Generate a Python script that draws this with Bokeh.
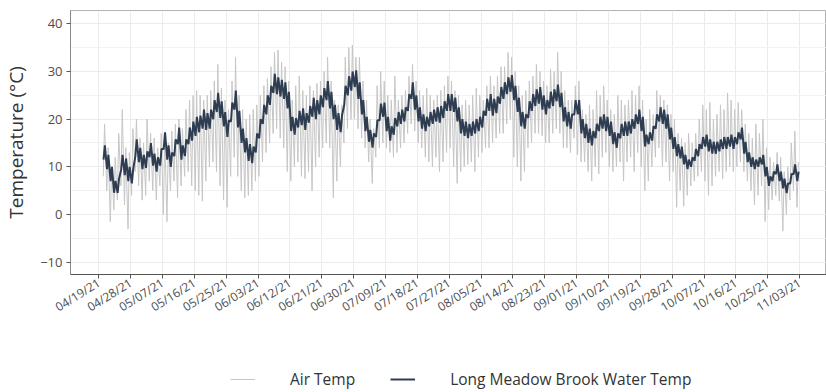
import math
import datetime as dt
from bokeh.plotting import figure
from bokeh.layouts import column
from bokeh.models import Range1d, FixedTicker, DatetimeTickFormatter, Legend, LegendItem
from bokeh.embed import file_html
from bokeh.resources import INLINE

# ---------------- data (daily values) ----------------
first_day = "2021-04-20"

water_mean = [
    13.0, 11.0, 8.5, 5.8, 6.0, 11.0, 10.0, 8.5, 8.0, 14.0,
    12.5, 11.0, 11.5, 13.5, 11.5, 10.5, 12.0, 15.5, 13.0, 11.5,
    14.0, 16.5, 13.0, 14.0, 16.5, 17.5, 18.5, 19.0, 20.0, 19.5,
    20.0, 22.0, 23.5, 22.0, 20.0, 18.0, 21.5, 24.0, 20.0, 16.5,
    14.5, 13.0, 12.5, 15.0, 18.0, 21.0, 23.0, 25.0, 27.5, 27.0,
    26.5, 26.0, 24.0, 19.0, 18.5, 20.0, 20.5, 19.5, 21.0, 22.5,
    22.0, 23.0, 24.5, 26.0, 24.0, 21.5, 19.5, 19.0, 25.0, 27.0,
    28.0, 28.5, 26.0, 22.5, 19.0, 16.5, 15.5, 18.0, 21.5, 22.0,
    19.0, 17.0, 18.5, 20.0, 20.5, 21.0, 23.5, 26.0, 23.5, 21.0,
    19.5, 19.0, 20.0, 20.5, 21.0, 21.0, 22.0, 23.5, 23.5, 23.0,
    21.0, 18.5, 18.0, 17.5, 18.0, 18.5, 19.0, 20.0, 22.5, 23.5,
    22.5, 23.0, 25.0, 26.0, 27.0, 27.5, 25.5, 23.0, 20.0, 19.5,
    22.0, 23.5, 24.5, 25.0, 23.5, 22.5, 24.0, 24.5, 25.5, 24.0,
    21.0, 20.0, 19.5, 22.5, 22.5, 18.5, 17.5, 16.5, 16.0, 17.5,
    19.0, 19.5, 19.0, 18.0, 16.0, 15.5, 17.5, 18.0, 18.0, 18.5,
    19.5, 20.5, 19.0, 15.5, 16.0, 17.0, 19.5, 21.0, 20.5, 19.5,
    17.0, 15.0, 13.5, 13.0, 11.5, 10.5, 11.0, 12.5, 13.5, 15.0,
    15.5, 14.5, 14.0, 14.0, 14.5, 15.0, 15.0, 15.5, 15.0, 16.0,
    17.0, 14.0, 12.0, 11.0, 10.5, 11.0, 11.5, 9.0, 7.0, 8.0,
    9.5, 8.0, 6.5, 5.5, 7.5, 9.5, 8.0,
]

water_range = [
    3, 3, 3, 2.5, 3, 3, 3.5, 3, 3, 3.5,
    3, 3, 3.5, 3, 2.5, 3, 3.5, 3.5, 3, 3,
    3.5, 3.5, 3, 3.5, 3.5, 4, 4, 3.5, 4, 3.5,
    4, 4, 4, 3.5, 3, 3.5, 4, 4, 3.5, 3,
    3, 3.5, 3.5, 4, 4, 4, 4, 4, 4, 3.5,
    3.5, 3.5, 3.5, 3, 3.5, 3.5, 3.5, 3.5, 3.5, 4,
    4, 4, 4, 4, 3.5, 3, 3.5, 3.5, 4, 4,
    4, 3.5, 3.5, 3, 3, 2.5, 3, 3.5, 3.5, 3,
    3, 3, 3.5, 3, 3, 3, 3.5, 3.5, 3, 3,
    3, 3, 3, 3, 3, 3.5, 3.5, 3.5, 3.5, 3,
    3, 3, 3, 3, 3, 3, 3, 3.5, 3.5, 3.5,
    3.5, 3.5, 3.5, 3.5, 3.5, 3.5, 3, 3, 3, 3,
    3.5, 3.5, 3.5, 3.5, 3, 3, 3.5, 3.5, 3.5, 3,
    3, 3, 3, 3, 3, 3, 3, 3, 3, 3,
    3, 3, 3, 3, 2.5, 3, 3, 3, 3, 3,
    3, 3, 3, 2.5, 2.5, 3, 3, 3, 3, 3,
    2.5, 2.5, 2.5, 2.5, 2, 2, 2, 2.5, 2.5, 2.5,
    2.5, 2.5, 2.5, 2.5, 2.5, 2.5, 2.5, 2.5, 2.5, 2.5,
    2.5, 2.5, 2, 2, 2, 2, 2, 2, 2, 2,
    2, 2, 2, 2, 2, 2, 2,
]

air_low = [
    8, 5, -1.5, 1, 3, 6, 2, -3, 4, 9,
    6, 3, 4, 7, 5, 3, 6, 0, -1.5, 5,
    7, 3.5, 6, 8, 9, 6, 5, 4, 2.8, 7,
    10, 11, 9, 6, 3, 1.5, 8, 12, 8, 5,
    3.5, 4, 5, 7, 8, 11, 13, 15, 17, 18,
    16, 14, 9, 7, 10, 11, 8, 7.5, 9, 5,
    10, 12, 14, 15, 14, 3.5, 7, 10, 15, 18,
    20, 20, 18, 16, 14, 11, 6.5, 12, 14, 15,
    14, 13, 12, 13, 14, 15, 17, 19, 17.5, 15,
    14, 12, 11, 10, 12, 9, 11, 13, 14, 10,
    6.5, 9, 10, 10.5, 11, 9, 12, 13, 14, 14,
    15, 16, 17, 17, 19, 20, 12, 10, 7, 9,
    14, 15, 17, 17, 16.5, 15, 15, 17, 18, 17,
    14, 14, 13, 16, 12.5, 11, 11, 9, 7, 10,
    8.5, 12, 13, 10, 9, 10, 11, 7, 11, 12,
    9, 13, 10, 5, 7, 10, 12, 14, 10, 11,
    7, 9, 1.5, 5, 1.7, 4, 6, 7, 8, 9,
    7, 4, 6, 8, 9, 7.5, 9, 10, 9, 10,
    11, 9, 7, 5, 2, 4, 6, -1.5, 1, 3,
    4, 2.8, -3.5, 0, 3, 5, 1.5,
]

air_high = [
    19, 14, 10, 12, 17, 22, 14, 13, 18, 20,
    16, 15, 20, 17, 16, 14, 17, 17, 15, 17.5,
    19, 20, 18, 22, 24, 25, 26, 25, 24, 25,
    26, 28, 31.5, 26.5, 24, 22, 28, 33, 25, 22,
    20, 21, 22, 23, 25, 27, 28.5, 31, 34, 34.5,
    32, 31, 28, 24, 27, 29, 26, 25, 27, 26,
    27.5, 28, 30, 33, 28, 24, 23, 23, 33, 35,
    35.5, 33, 33, 28, 24, 20, 18, 27, 30, 28,
    25, 24, 29, 24, 25, 26, 29, 31.5, 28, 26,
    25, 26.5, 25, 24, 25, 26, 27, 29, 28, 26,
    25, 23, 24, 23, 25, 26.5, 25, 24, 27, 29,
    27, 29, 31, 31, 34, 33, 30, 27, 25, 26,
    28, 29, 31.5, 30, 28, 27, 30.5, 30, 34, 30,
    26, 24, 24, 27, 28, 22, 21, 23, 22, 26,
    25, 27, 24, 22, 21, 25, 24, 23, 24, 26,
    25, 27, 24, 20, 22, 21, 26, 25, 24, 23,
    21, 20, 17, 16, 15, 17, 15, 17, 20, 23,
    22, 23.5, 20, 21, 23, 22, 25.5, 24, 22, 23.5,
    22, 19, 17, 16, 19, 17, 20, 14, 12, 11,
    13, 12, 9, 10, 15, 17.5, 11,
]

tick_dates = [
    "2021-04-19", "2021-04-28", "2021-05-07", "2021-05-16", "2021-05-25",
    "2021-06-03", "2021-06-12", "2021-06-21", "2021-06-30", "2021-07-09",
    "2021-07-18", "2021-07-27", "2021-08-05", "2021-08-14", "2021-08-23",
    "2021-09-01", "2021-09-10", "2021-09-19", "2021-09-28", "2021-10-07",
    "2021-10-16", "2021-10-25", "2021-11-03", "2021-11-12",
]
y_ticks = [-10, 0, 10, 20, 30, 40]
y_minor = [-5, 5, 15, 25, 35]

series_names = ["Air Temp", "Long Meadow Brook Water Temp"]
AIR_COLOR = "#c6c6c6"
WATER_COLOR = "#2e3d52"

# ---------------- build time series ----------------
EPOCH = dt.datetime(1970, 1, 1)


def to_ms(d):
    return (d - EPOCH).total_seconds() * 1000.0


d0 = dt.datetime.strptime(first_day, "%Y-%m-%d")
n = min(len(air_low), len(air_high), len(water_mean), len(water_range))

air_x, air_y, wat_x, wat_y = [], [], [], []
for i in range(n):
    day = d0 + dt.timedelta(days=i)
    air_x += [to_ms(day + dt.timedelta(hours=6)), to_ms(day + dt.timedelta(hours=15))]
    air_y += [air_low[i], air_high[i]]
    wat_x += [to_ms(day + dt.timedelta(hours=8)), to_ms(day + dt.timedelta(hours=17))]
    wat_y += [water_mean[i] - water_range[i] / 2.0, water_mean[i] + water_range[i] / 2.0]

tick_ms = [to_ms(dt.datetime.strptime(t, "%Y-%m-%d")) for t in tick_dates]

# ---------------- main figure ----------------
FONT = "Open Sans"
MAIN_H = 330
p = figure(
    width=826, height=MAIN_H,
    x_axis_type="datetime",
    x_range=Range1d(to_ms(dt.datetime(2021, 4, 11, 0)), to_ms(dt.datetime(2021, 11, 10, 14))),
    y_range=Range1d(-12.6, 42.8),
    output_backend="svg", toolbar_location=None,
    min_border_left=70, min_border_right=0, min_border_top=10,
    min_border_bottom=MAIN_H - 274,
)
p.background_fill_color = "white"
p.border_fill_color = "white"
p.outline_line_color = "#b3b3b3"
p.outline_line_width = 1

p.line(air_x, air_y, line_color=AIR_COLOR, line_width=1)
p.line(wat_x, wat_y, line_color=WATER_COLOR, line_width=2)

xa = p.xaxis[0]
xa.ticker = FixedTicker(ticks=tick_ms)
fmt = "%m/%d/%y"
xa.formatter = DatetimeTickFormatter(days=fmt, months=fmt, years=fmt, hours=fmt,
                                     hourmin=fmt, minutes=fmt, minsec=fmt,
                                     seconds=fmt, milliseconds=fmt, microseconds=fmt)
xa.major_label_orientation = math.radians(32)
xa.major_label_text_font = FONT
xa.major_label_text_font_size = "12px"
xa.major_label_text_color = "#4d4d4d"
xa.major_label_standoff = 3
xa.major_tick_out = 4
xa.major_tick_in = 0
xa.minor_tick_out = 0
xa.minor_tick_in = 0
xa.axis_line_color = "#555555"
xa.major_tick_line_color = "#555555"

ya = p.yaxis[0]
ya.ticker = FixedTicker(ticks=y_ticks, minor_ticks=y_minor)
ya.axis_label = "Temperature (\u00b0C)"
ya.axis_label_text_font = FONT
ya.axis_label_text_font_size = "19px"
ya.axis_label_text_font_style = "normal"
ya.axis_label_text_color = "#333333"
ya.axis_label_standoff = 8
ya.major_label_text_font = FONT
ya.major_label_text_font_size = "13px"
ya.major_label_text_color = "#4d4d4d"
ya.major_label_standoff = 4
ya.major_tick_out = 4
ya.major_tick_in = 0
ya.minor_tick_out = 0
ya.minor_tick_in = 0
ya.axis_line_color = "#888888"
ya.major_tick_line_color = "#555555"

p.xgrid.grid_line_color = "#ebebeb"
p.ygrid.grid_line_color = "#ebebeb"
p.ygrid.minor_grid_line_color = "#f2f2f2"

# ---------------- legend strip ----------------
LEG_H = 392 - MAIN_H
lg = figure(
    width=826, height=LEG_H,
    x_range=Range1d(0, 1), y_range=Range1d(0, 1),
    x_axis_location=None, y_axis_location=None,
    output_backend="svg", toolbar_location=None,
    min_border_left=0, min_border_right=0, min_border_top=0, min_border_bottom=0,
)
lg.outline_line_color = None
lg.xgrid.visible = False
lg.ygrid.visible = False
# off-range placeholder renderers, used only for the legend keys
la = lg.line([-10, -9], [-10, -9], line_color=AIR_COLOR, line_width=1)
lw = lg.line([-10, -9], [-10, -9], line_color=WATER_COLOR, line_width=2)
legend = Legend(
    items=[LegendItem(label=series_names[0], renderers=[la]),
           LegendItem(label=series_names[1], renderers=[lw])],
    orientation="horizontal",
    location=(158, 0),
    glyph_width=25, glyph_height=16,
    label_standoff=35, spacing=35,
    padding=2, margin=0,
    label_text_font=FONT, label_text_font_size="15.5px", label_text_color="#333333",
    background_fill_alpha=0, border_line_alpha=0,
)
lg.add_layout(legend)

layout = column(p, lg, spacing=0)
open("out.html", "w").write(file_html(layout, INLINE))
